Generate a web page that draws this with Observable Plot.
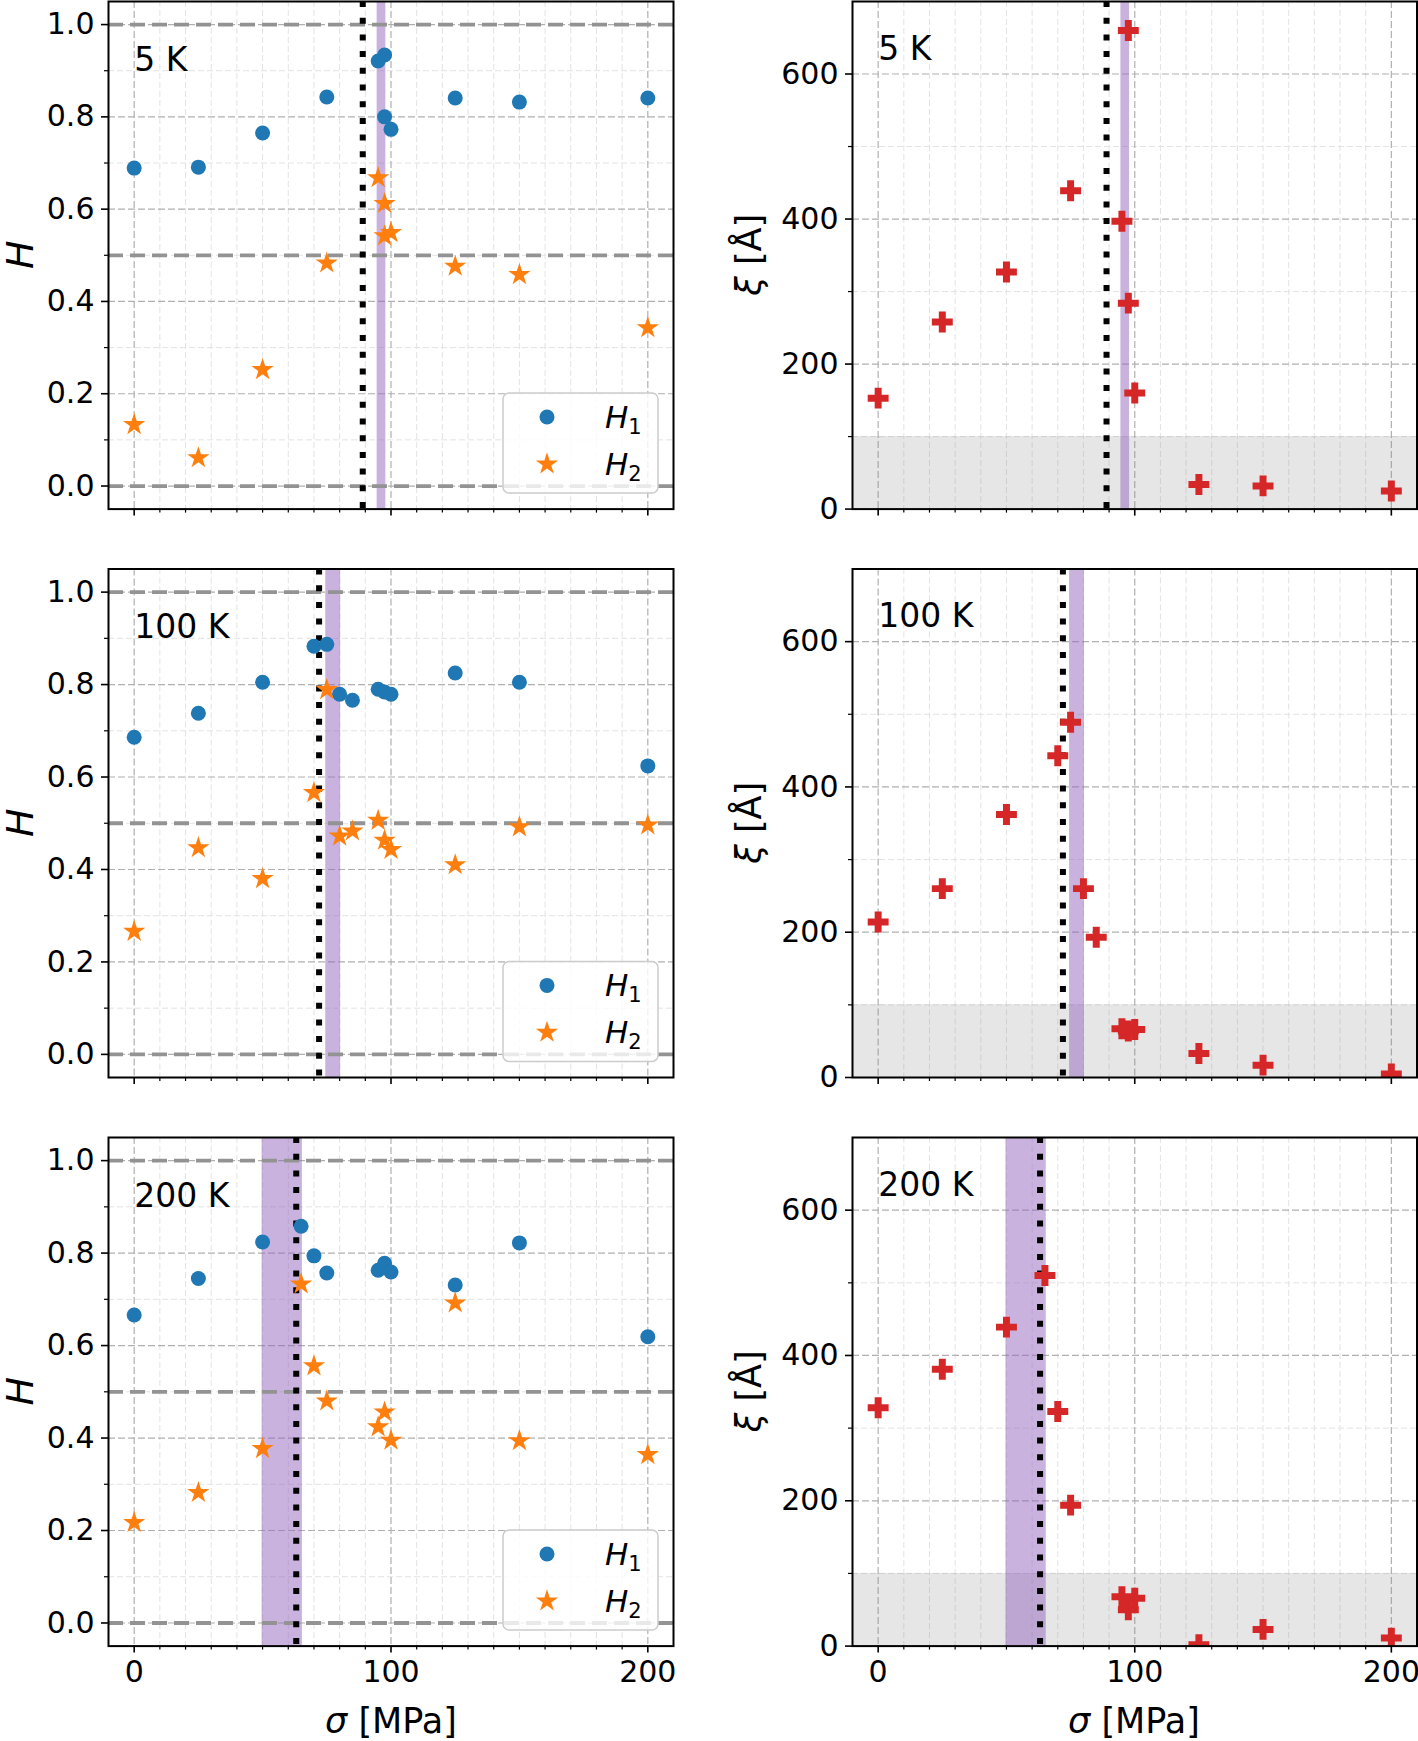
<!DOCTYPE html>
<html>
<head>
<meta charset="utf-8">
<script src="https://cdn.jsdelivr.net/npm/d3@7"></script>
<script src="https://cdn.jsdelivr.net/npm/@observablehq/plot@0.6"></script>
<style>
  body { margin: 0; background: #fff; }
  #fig { position: relative; width: 1418px; height: 1741px; overflow: hidden; background: #fff; font-family: "DejaVu Sans", sans-serif; }
  .panel { position: absolute; }
  #overlay { position: absolute; left: 0; top: 0; pointer-events: none; }
</style>
</head>
<body>
<div id="fig"></div>
<script>
// ---------------- DATA ----------------
const temperatures = ["5 K", "100 K", "200 K"];

const sigma_5K   = [0, 25, 50, 75, 95, 97.5, 97.5, 100, 125, 150, 200];
const H1_5K      = [0.689, 0.691, 0.765, 0.843, 0.921, 0.934, 0.800, 0.773, 0.841, 0.832, 0.841];
const H2_5K      = [0.133, 0.061, 0.252, 0.483, 0.668, 0.612, 0.542, 0.549, 0.476, 0.458, 0.343];
const xi_5K      = [153, 258, 327, 439, 397, 660, 284, 160, 34, 32, 25];

const sigma_100K = [0, 25, 50, 70, 75, 80, 85, 95, 97.5, 100, 125, 150, 200];
const H1_100K    = [0.686, 0.738, 0.805, 0.883, 0.887, 0.779, 0.766, 0.790, 0.784, 0.779, 0.825, 0.805, 0.624];
const H2_100K    = [0.266, 0.447, 0.380, 0.566, 0.789, 0.472, 0.483, 0.506, 0.463, 0.443, 0.410, 0.492, 0.496];
const xi_100K    = [214, 260, 362, 443, 489, 260, 193, 67, 64, 66, 33, 17, 5];

const sigma_200K = [0, 25, 50, 65, 70, 75, 95, 97.5, 100, 125, 150, 200];
const H1_200K    = [0.666, 0.745, 0.824, 0.858, 0.794, 0.757, 0.763, 0.778, 0.759, 0.731, 0.822, 0.619];
const H2_200K    = [0.217, 0.282, 0.377, 0.733, 0.556, 0.480, 0.424, 0.456, 0.395, 0.692, 0.394, 0.364];
const xi_200K    = [328, 381, 439, 510, 323, 194, 68, 50, 66, 2, 23, 11];

const criticalStress = [89, 72, 63.1];     // dotted line
const bandLow  = [94.6, 74.6, 49.8];       // purple band
const bandHigh = [98.0, 80.4, 65.5];
const xiThreshold = 100;                   // grey region upper edge
const hRefLines = [0, 0.5, 1.0];

const xTicks  = [0, 100, 200];
const xMinor  = [10, 20, 30, 40, 50, 60, 70, 80, 90, 110, 120, 130, 140, 150, 160, 170, 180, 190];
const hTicks  = [0, 0.2, 0.4, 0.6, 0.8, 1.0];
const hMinor  = [0.1, 0.3, 0.5, 0.7, 0.9];
const xiTicks = [0, 200, 400, 600];
const xiMinor = [100, 300, 500];
const hLabelAnchor = 0.9;
const xiLabelAnchor = 620;

// ---------------- LAYOUT ----------------
const sigmas = [sigma_5K, sigma_100K, sigma_200K];
const H1s = [H1_5K, H1_100K, H1_200K];
const H2s = [H2_5K, H2_100K, H2_200K];
const xis = [xi_5K, xi_100K, xi_200K];
const tables = sigmas.map((s, i) => s.map((v, j) => ({sigma: v, H1: H1s[i][j], H2: H2s[i][j], xi: xis[i][j]})));

const rows = [
  {top: 0,    height: 540, mt: 1,    mb: 31.4},
  {top: 540,  height: 570, mt: 28.5, mb: 33},
  {top: 1110, height: 631, mt: 27,   mb: 95.4}
];
const cols = {
  H:  {left: 0,   width: 690, ml: 108, mr: 17},
  xi: {left: 690, width: 728, ml: 162, mr: 1.5}
};
const FONT = "DejaVu Sans";
const STAR_R = 7;
const fig = document.getElementById("fig");

function makePanel(kind, i) {
  const row = rows[i], col = cols[kind];
  const isH = kind === "H";
  const bottom = i === 2;
  const tbl = tables[i];
  const minorGrid = {stroke: "#e3e3e3", strokeWidth: 1, strokeDasharray: "6,3"};
  const majorGrid = {stroke: "#b0b0b0", strokeWidth: 1.2, strokeDasharray: "7,3"};
  const marks = [
    Plot.ruleX(xMinor, minorGrid),
    Plot.ruleY(isH ? hMinor : xiMinor, minorGrid),
    Plot.ruleX(xTicks, majorGrid),
    Plot.ruleY(isH ? hTicks : xiTicks, majorGrid)
  ];
  if (!isH) marks.push(Plot.rect([{y1: 0, y2: xiThreshold}], {y1: "y1", y2: "y2", fill: "gray", fillOpacity: 0.2}));
  marks.push(Plot.rect([{x1: bandLow[i], x2: bandHigh[i]}], {x1: "x1", x2: "x2", fill: "#9467bd", fillOpacity: 0.5}));
  if (isH) marks.push(Plot.ruleY(hRefLines, {stroke: "#939393", strokeWidth: 3.8, strokeDasharray: "15,7"}));
  marks.push(Plot.ruleX([criticalStress[i]], {stroke: "black", strokeWidth: 6, strokeDasharray: "6,10.7"}));
  if (isH) {
    marks.push(Plot.dot(tbl, {x: "sigma", y: "H1", r: 7.5, fill: "#1f77b4", symbol: "circle", clip: true}));
    marks.push(Plot.dot(tbl, {x: "sigma", y: "H2", r: STAR_R, fill: "#ff7f0e", symbol: "star", clip: true}));
  } else {
    marks.push(Plot.dot(tbl, {x: "sigma", y: "xi", r: 8.8, fill: "#d62728", symbol: "cross", clip: true}));
  }
  marks.push(Plot.text([{x: 0, y: isH ? hLabelAnchor : xiLabelAnchor, t: temperatures[i]}],
    {x: "x", y: "y", text: "t", textAnchor: "start", lineAnchor: "bottom", fontSize: 33, fill: "black"}));
  marks.push(Plot.axisX(xTicks, {anchor: "bottom", tickSize: 7, tickPadding: 8,
    tickFormat: bottom ? d3.format("d") : () => "", label: null, fontSize: 30, strokeWidth: 1.6}));
  marks.push(Plot.axisX(xMinor, {anchor: "bottom", tickSize: 4, tickFormat: () => "", label: null, strokeWidth: 1.2}));
  marks.push(Plot.axisY(isH ? hTicks : xiTicks, {anchor: "left", tickSize: 7, tickPadding: 7,
    tickFormat: isH ? d3.format(".1f") : d3.format("d"), label: null, fontSize: 30, strokeWidth: 1.6}));
  marks.push(Plot.axisY(isH ? hMinor : xiMinor, {anchor: "left", tickSize: 4, tickFormat: () => "", label: null, strokeWidth: 1.2}));
  marks.push(Plot.frame({stroke: "black", strokeWidth: 2}));

  const svg = Plot.plot({
    width: col.width, height: row.height,
    marginTop: row.mt, marginBottom: row.mb, marginLeft: col.ml, marginRight: col.mr,
    x: {domain: [-10, 210]},
    y: {domain: isH ? [-0.05, 1.05] : [0, 700]},
    style: {background: "transparent", fontFamily: FONT, fontSize: "30px", color: "black", overflow: "visible"},
    marks
  });
  const wrap = document.createElement("div");
  wrap.className = "panel";
  wrap.style.left = col.left + "px";
  wrap.style.top = row.top + "px";
  wrap.appendChild(svg);
  fig.appendChild(wrap);
}

for (let i = 0; i < 3; i++) { makePanel("H", i); makePanel("xi", i); }

// ---------------- OVERLAY: axis labels and legends ----------------
const ov = d3.select(fig).append("svg").attr("id", "overlay")
  .attr("width", 1418).attr("height", 1741)
  .style("font-family", FONT);

rows.forEach((row, i) => {
  const axTop = row.top + row.mt;
  const axBot = row.top + row.height - row.mb;
  const cy = (axTop + axBot) / 2;
  // left y label
  ov.append("text").attr("transform", `translate(33,${cy}) rotate(-90)`)
    .attr("text-anchor", "middle").attr("font-size", 38).attr("font-style", "italic").text("H");
  // right y label
  const t = ov.append("text").attr("transform", `translate(761,${cy}) rotate(-90)`)
    .attr("text-anchor", "middle").attr("font-size", 35);
  t.append("tspan").attr("font-style", "italic").text("ξ");
  t.append("tspan").text(" [Å]");
  // legend
  const lx = 503, ly = axBot - 115.6;
  const g = ov.append("g").attr("transform", `translate(${lx},${ly})`);
  g.append("rect").attr("width", 155).attr("height", 100).attr("rx", 6)
    .attr("fill", "white").attr("fill-opacity", 0.8).attr("stroke", "#cccccc").attr("stroke-width", 1.5);
  g.append("circle").attr("cx", 44).attr("cy", 24).attr("r", 7.5).attr("fill", "#1f77b4");
  g.append("path").attr("transform", "translate(44,71)")
    .attr("d", d3.symbol(d3.symbolStar, Math.PI * STAR_R * STAR_R)()).attr("fill", "#ff7f0e");
  [["1", 35], ["2", 82]].forEach(([s, y]) => {
    const tx = g.append("text").attr("x", 102).attr("y", y).attr("font-size", 31);
    tx.append("tspan").attr("font-style", "italic").text("H");
    tx.append("tspan").attr("font-size", 21).attr("dy", 6).text(s);
  });
});
// x labels
[391, 1134].forEach(cx => {
  const t = ov.append("text").attr("x", cx).attr("y", 1733).attr("text-anchor", "middle").attr("font-size", 35);
  t.append("tspan").attr("font-style", "italic").text("σ");
  t.append("tspan").text(" [MPa]");
});
</script>
</body>
</html>
